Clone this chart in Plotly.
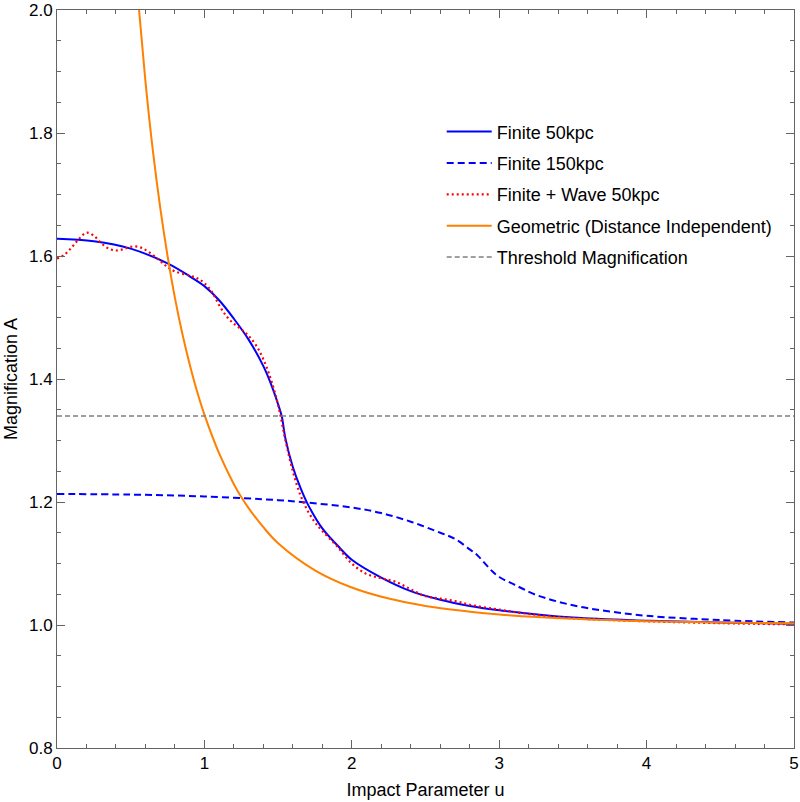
import plotly.graph_objects as go

# impact parameter samples and magnification
u_fin50 = [0, 0.25, 0.5, 0.75, 0.9, 1.0, 1.1, 1.2, 1.3, 1.4, 1.45, 1.5, 1.525, 1.55, 1.6,
           1.65, 1.7, 1.8, 1.9, 2.0, 2.2, 2.4, 2.6, 2.8, 3.0, 3.5, 4.0, 4.5, 5.0]
a_fin50 = [1.628, 1.624, 1.612, 1.588, 1.567, 1.551, 1.528, 1.498, 1.464, 1.421, 1.393, 1.359, 1.339, 1.303, 1.257,
           1.224, 1.197, 1.157, 1.130, 1.106, 1.077, 1.055, 1.041, 1.031, 1.024, 1.012, 1.007, 1.004, 1.002]

u_fin150 = [0, 0.5, 1.0, 1.5, 1.7, 2.0, 2.2, 2.4, 2.6, 2.7, 2.8, 2.85, 2.9, 2.95,
            3.0, 3.1, 3.25, 3.5, 3.75, 4.0, 4.5, 5.0]
a_fin150 = [1.213, 1.212, 1.209, 1.203, 1.199, 1.191, 1.182, 1.168, 1.150, 1.140, 1.123, 1.114, 1.101, 1.088,
            1.078, 1.066, 1.049, 1.032, 1.022, 1.015, 1.008, 1.004]

u_wave = [0, 0.05, 0.1, 0.15, 0.2, 0.25, 0.3, 0.35, 0.4, 0.45, 0.5, 0.55, 0.6, 0.7, 0.75, 0.8,
          0.9, 0.95, 1.0, 1.05, 1.1, 1.15, 1.2, 1.25, 1.3, 1.35, 1.4, 1.45, 1.5, 1.55, 1.6,
          1.65, 1.7, 1.75, 1.8, 1.9, 2.0, 2.1, 2.2, 2.3, 2.4, 2.5, 2.6, 2.7, 2.8, 3.0, 3.2,
          3.5, 4.0, 4.5, 5.0]
a_wave = [1.596, 1.602, 1.614, 1.628, 1.638, 1.633, 1.621, 1.612, 1.609, 1.611, 1.615, 1.615, 1.610, 1.592, 1.582, 1.575,
          1.568, 1.564, 1.556, 1.542, 1.520, 1.502, 1.490, 1.481, 1.470, 1.455, 1.432, 1.400, 1.358, 1.300, 1.250,
          1.212, 1.186, 1.167, 1.153, 1.128, 1.100, 1.083, 1.076, 1.070, 1.058, 1.047, 1.043, 1.039, 1.033, 1.025, 1.018,
          1.011, 1.006, 1.003, 1.001]

u_geo = [0.5, 0.55, 0.6, 0.65, 0.7, 0.75, 0.8, 0.85, 0.9, 0.95, 1.0, 1.1, 1.2, 1.25, 1.3, 1.4,
         1.5, 1.75, 2.0, 2.25, 2.5, 2.75, 3.0, 3.5, 4.0, 4.5, 5.0]
a_geo = [2.183, 2.018, 1.884, 1.772, 1.679, 1.600, 1.532, 1.474, 1.424, 1.380, 1.342, 1.279, 1.229, 1.208, 1.190, 1.159,
         1.133, 1.089, 1.061, 1.043, 1.031, 1.023, 1.017, 1.010, 1.006, 1.004, 1.003]

u_thresh = [0, 5]
a_thresh = [1.34, 1.34]

BLUE = 'rgb(0,0,255)'
fig = go.Figure()
fig.add_trace(go.Scatter(x=u_fin50, y=a_fin50, mode='lines', name='Finite 50kpc', legendgroup='a',
                         line=dict(color=BLUE, width=2, shape='spline')))
fig.add_trace(go.Scatter(x=u_fin150, y=a_fin150, mode='lines', name='Finite 150kpc', legendgroup='b',
                         line=dict(color=BLUE, width=2, dash='7px,4px', shape='spline')))
fig.add_trace(go.Scatter(x=u_wave, y=a_wave, mode='lines', name='Finite + Wave 50kpc', legendgroup='c',
                         line=dict(color='rgb(255,0,0)', width=2.2, dash='2px,3px', shape='spline')))
fig.add_trace(go.Scatter(x=u_geo, y=a_geo, mode='lines', name='Geometric (Distance Independent)', legendgroup='d',
                         line=dict(color='rgb(255,128,0)', width=2, shape='spline')))
fig.add_trace(go.Scatter(x=u_thresh, y=a_thresh, mode='lines', name='Threshold Magnification', legendgroup='e',
                         line=dict(color='rgb(128,128,128)', width=1.5, dash='5px,3px')))

axis_style = dict(showgrid=False, zeroline=False, showline=True, linecolor='rgb(100,100,100)', linewidth=1,
                  mirror='ticks', ticks='inside', ticklen=8, tickcolor='rgb(100,100,100)',
                  tickfont=dict(size=17, color='black'), automargin=False, ticklabeloverflow='allow')
fig.update_xaxes(range=[0, 5], dtick=1, title=dict(text='Impact Parameter u', font=dict(size=18, color='black'), standoff=10),
                 minor=dict(ticks='inside', ticklen=4, dtick=0.2, tickcolor='rgb(100,100,100)'), **axis_style)
fig.update_yaxes(range=[0.8, 2.0], dtick=0.2, tickformat='.1f',
                 title=dict(text='Magnification A', font=dict(size=18, color='black'), standoff=6),
                 minor=dict(ticks='inside', ticklen=4, dtick=0.05, tickcolor='rgb(100,100,100)'), **axis_style)

fig.update_layout(
    width=800, height=802,
    margin=dict(l=57, r=6, t=10, b=54),
    plot_bgcolor='white', paper_bgcolor='white',
    font=dict(family='Liberation Sans, Arial, sans-serif', size=18, color='black'),
    legend=dict(x=0.522, y=0.860, xanchor='left', yanchor='top', bgcolor='rgba(0,0,0,0)',
                tracegroupgap=5, itemwidth=45, font=dict(size=18)),
)
# drop the default 8px page margin so the figure sits at the window corner
fig.write_html("out.html", config={'displayModeBar': False},
               post_script="document.body.style.margin='0';")
